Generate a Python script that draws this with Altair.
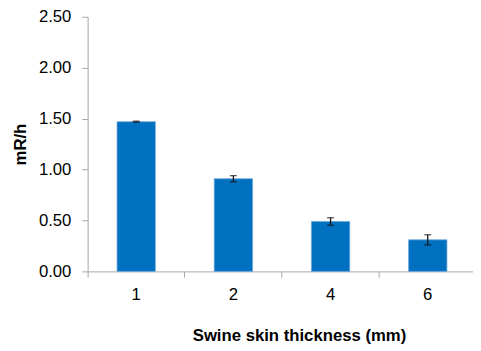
import altair as alt
import pandas as pd

thickness = ["1", "2", "4", "6"]
mean_mrh = [1.47, 0.91, 0.49, 0.31]
err_mrh = [0.005, 0.03, 0.037, 0.05]

df = pd.DataFrame({
    "thickness": thickness,
    "mean": mean_mrh,
    "lo": [m - e for m, e in zip(mean_mrh, err_mrh)],
    "hi": [m + e for m, e in zip(mean_mrh, err_mrh)],
})

FONT = "Liberation Sans"
AXIS_COLOR = "#A6A6A6"

x = alt.X(
    "thickness:N",
    sort=thickness,
    scale=alt.Scale(paddingInner=0, paddingOuter=0, range=[0, 395.4]),
    axis=alt.Axis(
        title="Swine skin thickness (mm)",
        labelAngle=0,
        labelFont=FONT,
        labelFontSize=17,
        labelColor="black",
        labelPadding=10,
        bandPosition=0,
        tickSize=6,
        tickColor=AXIS_COLOR,
        domainColor=AXIS_COLOR,
        titleFont=FONT,
        titleFontSize=17,
        titleFontWeight="bold",
        titleColor="black",
        titleAlign="center",
        titleAnchor="start",
        titleBaseline="alphabetic",
        titleX=215,
        titleY=70,
        grid=False,
    ),
)

y_axis = alt.Axis(
    title="mR/h",
    values=[0, 0.5, 1.0, 1.5, 2.0, 2.5],
    format=".2f",
    labelFont=FONT,
    labelFontSize=17,
    labelColor="black",
    labelPadding=11,
    tickSize=6,
    tickColor=AXIS_COLOR,
    domainColor=AXIS_COLOR,
    titleFont=FONT,
    titleFontSize=17,
    titleFontWeight="bold",
    titleColor="black",
    titleAngle=-90,
    titleAlign="center",
    titleBaseline="middle",
    titleAnchor="start",
    titleX=-68,
    titleY=129.5,
    grid=False,
)

base = alt.Chart(df)

bars = base.mark_bar(color="#0070C0", stroke="#6FA8DC", strokeWidth=0.8, width=39).encode(
    x=x,
    y=alt.Y("mean:Q", scale=alt.Scale(domain=[0, 2.5], nice=False), axis=y_axis),
)

rules = base.mark_rule(color="#111111", strokeWidth=1.3).encode(
    x=alt.X("thickness:N", sort=thickness),
    y="lo:Q",
    y2="hi:Q",
)

caps_hi = base.mark_tick(color="#111111", thickness=1.3, size=7, orient="horizontal").encode(
    x=alt.X("thickness:N", sort=thickness),
    y="hi:Q",
)
caps_lo = base.mark_tick(color="#111111", thickness=1.3, size=7, orient="horizontal").encode(
    x=alt.X("thickness:N", sort=thickness),
    y="lo:Q",
)

chart = (
    alt.layer(bars, rules, caps_hi, caps_lo)
    .properties(
        width=392,
        height=259,
        autosize=alt.AutoSizeParams(type="none"),
        padding={"left": 81, "top": 6, "right": 0, "bottom": 76},
        background="white",
    )
    .configure_view(stroke=None)
)

chart.save("out.html", embed_options={"renderer": "svg", "actions": False})
